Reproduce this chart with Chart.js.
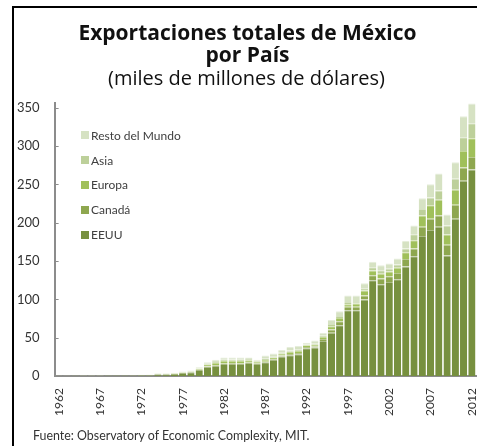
<!DOCTYPE html>
<html>
<head>
<meta charset="utf-8">
<script src="https://cdn.jsdelivr.net/npm/chart.js@4.4.1/dist/chart.umd.min.js"></script>
<style>
  html, body { margin: 0; padding: 0; background: #fff; }
  #wrap { position: relative; width: 477px; height: 446px; overflow: hidden; font-family: Lato, "Open Sans", sans-serif; color: #222; }
  #frame { position: absolute; left: 12px; top: 6px; width: 500px; height: 500px; border-left: 2px solid #000; border-top: 2px solid #000; }
  #title { position: absolute; left: 18px; right: 0; top: 22px; text-align: center; font-family: "Open Sans", sans-serif; font-weight: bold; font-size: 21px; line-height: 21.5px; color: #111; }
  #sub { position: absolute; left: 16px; right: 0; top: 67px; text-align: center; font-family: "Open Sans", sans-serif; font-size: 20px; line-height: 22px; color: #111; }
  #foot { position: absolute; left: 33px; top: 428px; font-size: 12.4px; color: #333; }
  #legend { position: absolute; left: 81px; top: 123px; font-size: 12px; color: #404040; }
  .li { height: 24.8px; display: flex; align-items: center; }
  .sw { width: 8px; height: 8px; margin-right: 2px; }
  #cw { position: absolute; left: 0; top: 0; width: 477px; height: 446px; }
</style>
</head>
<body>
<div id="wrap">
  <div id="cw"><canvas id="chart"></canvas></div>
  <div id="frame"></div>
  <div id="title">Exportaciones totales de México<br>por País</div>
  <div id="sub">(miles de millones de dólares)</div>
  <div id="legend"></div>
  <div id="foot">Fuente: Observatory of Economic Complexity, MIT.</div>
</div>
<script>
// años 1962-2012
const years = [];
for (let y = 1962; y <= 2012; y++) years.push(String(y));

const seriesNames = ['EEUU', 'Canadá', 'Europa', 'Asia', 'Resto del Mundo'];
const seriesColors = ['#77903f', '#8ea74f', '#a0c05a', '#bdd09a', '#d6e2c3'];
const seriesEdges = ['#a9b983', '#b8c88e', '#c4d897', '#d5e1c0', '#e6eddb'];

// miles de millones de dólares
const eeuu = [0.6, 0.6, 0.65, 0.7, 0.7, 0.7, 0.8, 0.85, 0.85, 0.9, 1.1, 1.3,
  2.5, 2.5, 2.8, 4.0, 5.0, 8.0, 12.4, 13.7, 15.8, 16.3, 15.8, 17.1, 15.8, 18.0, 21.0, 25.7, 27.4, 28.7,
  36.4, 37.2, 45.8, 56.5, 66.3, 86.0, 86.0, 100.0, 125.0, 119.9, 122.8, 126.3, 143.0, 156.2, 182.8,
  190.5, 194.8, 157.1, 205.1, 254.8, 269.3];
const canada = [0.02, 0.02, 0.02, 0.03, 0.03, 0.03, 0.03, 0.03, 0.03, 0.04, 0.05, 0.06,
  0.1, 0.1, 0.1, 0.15, 0.2, 0.3, 0.6, 0.7, 0.8, 0.8, 0.8, 0.7, 0.6, 0.9, 1.0, 1.2, 1.4, 1.4,
  1.7, 1.7, 2.6, 4.3, 5.1, 4.3, 4.3, 5.1, 6.4, 7.3, 7.3, 8.1, 9.8, 10.3, 12.0,
  14.6, 14.6, 14.1, 18.4, 17.1, 16.3];
const europa = [0.1, 0.1, 0.1, 0.1, 0.1, 0.1, 0.12, 0.13, 0.13, 0.14, 0.17, 0.25,
  0.5, 0.5, 0.5, 0.7, 0.8, 1.3, 2.2, 2.8, 3.2, 3.0, 3.1, 2.9, 2.4, 2.3, 2.4, 2.6, 3.0, 2.8,
  2.1, 2.1, 2.6, 4.3, 4.3, 3.4, 4.3, 6.4, 6.4, 6.4, 6.4, 6.8, 8.6, 10.7, 14.6,
  17.6, 20.5, 13.3, 19.3, 21.4, 24.4];
const asia = [0.03, 0.03, 0.04, 0.04, 0.04, 0.04, 0.05, 0.05, 0.05, 0.05, 0.06, 0.08,
  0.2, 0.2, 0.2, 0.3, 0.4, 0.6, 1.0, 1.4, 1.5, 1.6, 1.7, 1.6, 1.2, 1.6, 1.6, 1.5, 1.6, 1.4,
  0.9, 1.3, 1.7, 3.0, 2.6, 3.0, 2.1, 3.0, 4.3, 4.3, 3.4, 4.3, 5.1, 7.7, 8.6,
  10.3, 12.0, 12.0, 14.6, 18.0, 19.7];
const resto = [0.15, 0.15, 0.19, 0.23, 0.23, 0.23, 0.2, 0.24, 0.24, 0.27, 0.32, 0.41,
  0.6, 0.6, 0.7, 0.85, 0.9, 1.4, 1.8, 2.8, 3.1, 2.7, 3.0, 2.1, 1.4, 4.2, 3.5, 3.2, 4.7, 5.1,
  2.4, 4.3, 3.4, 5.1, 6.4, 8.5, 8.5, 6.5, 7.1, 6.6, 6.8, 8.0, 9.7, 11.5, 14.0,
  17.0, 22.1, 14.1, 21.3, 27.3, 25.6];

const yTicks = [0, 50, 100, 150, 200, 250, 300, 350];

const seriesData = [eeuu, canada, europa, asia, resto];

const inwardTicks = {
  id: 'inwardTicks',
  afterDraw(chart) {
    const y = chart.scales.y, ctx = chart.ctx;
    ctx.save();
    ctx.strokeStyle = '#8c8c8c';
    ctx.lineWidth = 1;
    y.ticks.forEach(t => {
      const py = Math.round(y.getPixelForValue(t.value)) + 0.5;
      ctx.beginPath();
      ctx.moveTo(y.right, py);
      ctx.lineTo(y.right + 4, py);
      ctx.stroke();
    });
    ctx.restore();
  }
};

const chart = new Chart(document.getElementById('chart'), {
  type: 'bar',
  data: {
    labels: years,
    datasets: seriesNames.map((name, i) => ({
      label: name,
      data: seriesData[i],
      backgroundColor: seriesColors[i],
      borderColor: seriesEdges[i],
      borderWidth: { top: 1, left: 0, right: 0, bottom: 0 },
      borderSkipped: false,
      categoryPercentage: 1,
      barPercentage: 0.87
    }))
  },
  options: {
    responsive: true,
    maintainAspectRatio: false,
    animation: false,
    layout: { padding: { top: 103, left: 2, right: 1, bottom: 18 } },
    plugins: {
      legend: { display: false },
      title: { display: false },
      tooltip: { enabled: false }
    },
    scales: {
      x: {
        stacked: true,
        grid: { display: false, drawTicks: false },
        border: { color: '#8c8c8c', width: 2 },
        afterFit: s => { s.paddingLeft = 0; s.paddingRight = 0; },
        ticks: {
          autoSkip: false,
          maxRotation: 90,
          minRotation: 90,
          padding: 12,
          color: '#333',
          font: { family: 'Lato', size: 12 },
          callback: (v, i) => (i % 5 === 0 ? years[i] : '')
        }
      },
      y: {
        stacked: true,
        min: 0,
        max: 356,
        afterBuildTicks: s => { s.ticks = yTicks.map(v => ({ value: v })); },
        grid: { display: false, drawTicks: false },
        border: { color: '#8c8c8c', width: 2 },
        ticks: {
          padding: 15,
          color: '#333',
          font: { family: 'Lato', size: 13 }
        }
      }
    }
  },
  plugins: [inwardTicks]
});

// leyenda (orden inverso, como en la figura)
const legendEl = document.getElementById('legend');
for (let i = seriesNames.length - 1; i >= 0; i--) {
  const row = document.createElement('div');
  row.className = 'li';
  row.innerHTML = '<span class="sw" style="background:' + seriesColors[i] + '"></span>' + seriesNames[i];
  legendEl.appendChild(row);
}
</script>
</body>
</html>
